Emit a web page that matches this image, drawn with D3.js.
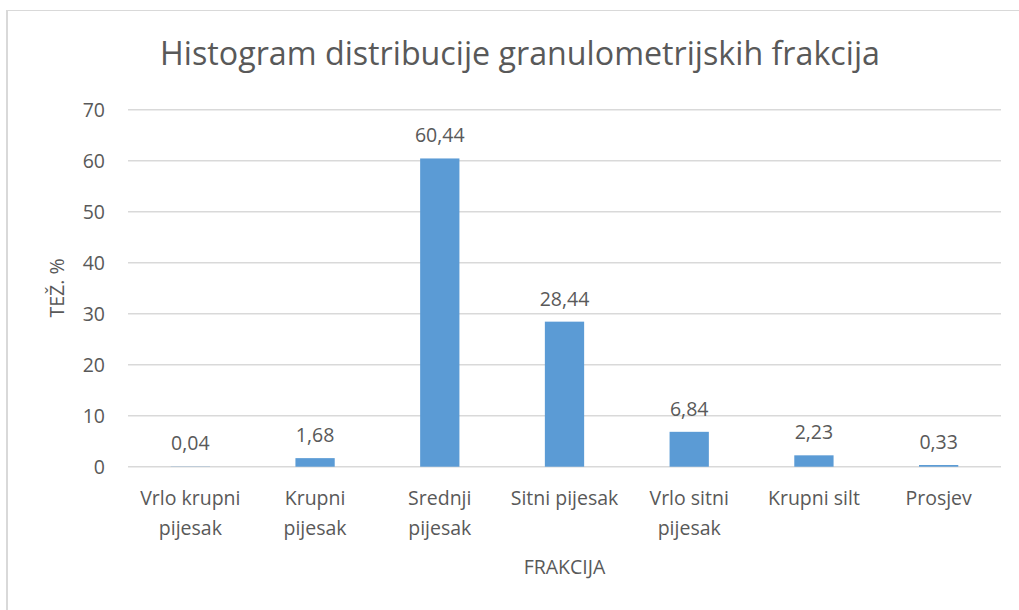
<!DOCTYPE html>
<html><head><meta charset="utf-8">
<script src="https://cdn.jsdelivr.net/npm/d3@7"></script>
<style>body{margin:0;background:#fff}svg{display:block}text{font-family:"Open Sans",sans-serif;fill:#595959}</style>
</head><body>
<svg id="c" width="1019" height="610"></svg>
<script>
const categories = [["Vrlo krupni","pijesak"],["Krupni","pijesak"],["Srednji","pijesak"],["Sitni pijesak"],["Vrlo sitni","pijesak"],["Krupni silt"],["Prosjev"]];
const values = [0.04,1.68,60.44,28.44,6.84,2.23,0.33];
const yTicks = [0,10,20,30,40,50,60,70];
const title = "Histogram distribucije granulometrijskih frakcija";
const xTitle = "FRAKCIJA", yTitle = "TEŽ. %";

const svg = d3.select("#c");
svg.append("line").attr("x1",7).attr("x2",1019).attr("y1",10.5).attr("y2",10.5).attr("stroke","#d9d9d9");
svg.append("line").attr("x1",7).attr("x2",7).attr("y1",10).attr("y2",610).attr("stroke","#d9d9d9").attr("stroke-width",2);
const m = {l:128,r:1001,t:109.7,b:466.7};
const x = d3.scaleBand().domain(d3.range(values.length)).range([m.l,m.r]).paddingInner(0.685).paddingOuter(0.3425);
const y = d3.scaleLinear().domain([0,70]).range([m.b,m.t]);

svg.append("g").selectAll("line").data(yTicks).join("line")
 .attr("x1",m.l).attr("x2",m.r).attr("y1",d=>y(d)).attr("y2",d=>y(d))
 .attr("stroke","#d9d9d9").attr("stroke-width",1.5);
svg.append("g").selectAll("text").data(yTicks).join("text")
 .attr("x",105).attr("y",d=>y(d)+7).attr("text-anchor","end").attr("font-size",19.5).text(d=>d);

svg.append("g").selectAll("rect").data(values).join("rect")
 .attr("x",(d,i)=>x(i)).attr("width",x.bandwidth()).attr("y",d=>y(d)).attr("height",d=>y(0)-y(d)).attr("fill","#5b9bd5");
svg.append("g").selectAll("text").data(values).join("text")
 .attr("x",(d,i)=>x(i)+x.bandwidth()/2).attr("y",d=>y(d)-16).attr("text-anchor","middle").attr("font-size",19.5)
 .text(d=>d.toFixed(2).replace(".",","));

const cg = svg.append("g").selectAll("text").data(categories).join("text")
 .attr("x",(d,i)=>x(i)+x.bandwidth()/2).attr("y",505).attr("text-anchor","middle").attr("font-size",19.5);
cg.selectAll("tspan").data(d=>d).join("tspan").attr("x",function(){return this.parentNode.getAttribute("x");})
 .attr("dy",(d,i)=>i?30:0).text(d=>d);

const t = svg.append("text").attr("x",520).attr("y",65).attr("text-anchor","middle").attr("font-size",30).text(title);
const tl = t.node().getComputedTextLength();
t.attr("font-size",30*720/tl);
svg.append("text").attr("x",(m.l+m.r)/2).attr("y",574).attr("text-anchor","middle").attr("font-size",19.5).text(xTitle);
svg.append("text").attr("transform","translate(64,288) rotate(-90)").attr("text-anchor","middle").attr("font-size",19.5).text(yTitle);
</script></body></html>
